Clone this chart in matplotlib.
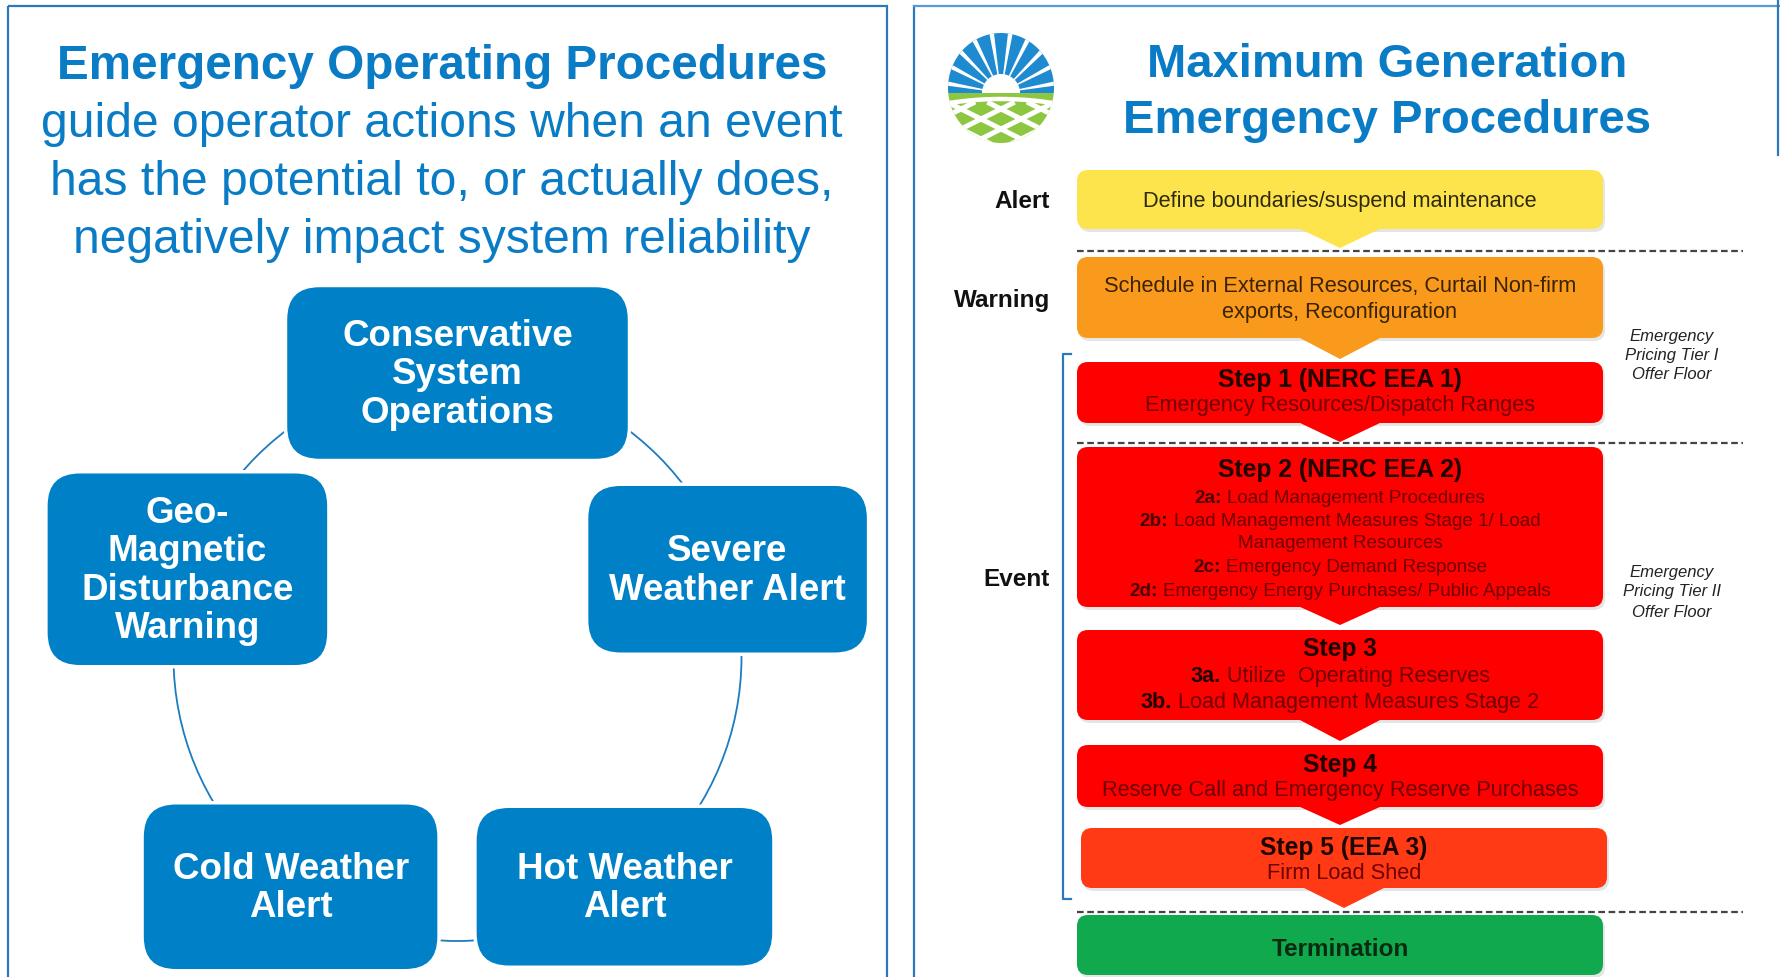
import matplotlib
matplotlib.use('Agg')
import matplotlib.pyplot as plt
from matplotlib.patches import FancyBboxPatch, Polygon, Circle, Rectangle, Wedge, Ellipse
import numpy as np

plt.rcParams['font.family'] = ['Liberation Sans', 'DejaVu Sans']

# ---------------- data ----------------
left_title = "Emergency Operating Procedures"
left_subtitle = ["guide operator actions when an event",
                 "has the potential to, or actually does,",
                 "negatively impact system reliability"]
cycle_labels = [["Conservative", "System", "Operations"],
                ["Severe", "Weather Alert"],
                ["Hot Weather", "Alert"],
                ["Cold Weather", "Alert"],
                ["Geo-", "Magnetic", "Disturbance", "Warning"]]

right_title = ["Maximum Generation", "Emergency Procedures"]
stage_labels = ["Alert", "Warning", "Event"]
alert_lines = ["Define boundaries/suspend maintenance"]
warning_lines = ["Schedule in External Resources, Curtail Non-firm",
                 "exports, Reconfiguration"]
step_titles = ["Step 1 (NERC EEA 1)", "Step 2 (NERC EEA 2)", "Step 3",
               "Step 4", "Step 5 (EEA 3)"]
step_details = [
    [("", "Emergency Resources/Dispatch Ranges")],
    [("2a:", "Load Management Procedures"),
     ("2b:", "Load Management Measures Stage 1/ Load"),
     ("", "Management Resources"),
     ("2c:", "Emergency Demand Response"),
     ("2d:", "Emergency Energy Purchases/ Public Appeals")],
    [("3a.", "Utilize  Operating Reserves"),
     ("3b.", "Load Management Measures Stage 2")],
    [("", "Reserve Call and Emergency Reserve Purchases")],
    [("", "Firm Load Shed")],
]
termination_label = "Termination"
pricing_notes = [["Emergency", "Pricing Tier I", "Offer Floor"],
                 ["Emergency", "Pricing Tier II", "Offer Floor"]]

# ---------------- figure ----------------
W, H = 1780, 977
fig = plt.figure(figsize=(W / 100, H / 100), dpi=100)
ax = fig.add_axes([0, 0, 1, 1])
ax.set_xlim(0, W)
ax.set_ylim(H, 0)
ax.axis('off')

BLUE_TXT = '#0A7BC5'
BOX_BLUE = '#0080C6'
BORDER = '#2C77BD'


def put(x, yc, s, size, weight='normal', color='black', ha='center',
        style='normal', z=5):
    em = size * 100 / 72
    return ax.text(x, yc + 0.355 * em, s, fontsize=size, fontweight=weight,
                   color=color, ha=ha, va='baseline', fontstyle=style, zorder=z)


def put_mixed(cx, yc, prefix, rest, size, pcolor, rcolor):
    if not prefix:
        put(cx, yc, rest, size, color=rcolor)
        return
    em = size * 100 / 72
    yb = yc + 0.355 * em
    t1 = ax.text(0, yb, prefix, fontsize=size, fontweight='bold', color=pcolor,
                 ha='left', va='baseline', zorder=5)
    t2 = ax.text(0, yb, rest, fontsize=size, color=rcolor, ha='left',
                 va='baseline', zorder=5)
    r = fig.canvas.get_renderer()
    w1 = t1.get_window_extent(r).width
    w2 = t2.get_window_extent(r).width
    gap = 0.28 * em
    x0 = cx - (w1 + gap + w2) / 2
    t1.set_x(x0)
    t2.set_x(x0 + w1 + gap)


# ---------------- panel borders ----------------
ax.add_patch(Rectangle((8, 6), 879, 1000, fill=False, ec=BORDER, lw=1.6, zorder=1))
ax.plot([914, 914], [6, H + 5], color=BORDER, lw=1.6, zorder=1)
ax.plot([914, W + 5], [6, 6], color='#5A9AD3', lw=1.6, zorder=1)
ax.plot([1778, 1778], [0, 155], color=BORDER, lw=1.6, zorder=1)

# ---------------- left panel ----------------
put(442, 62, left_title, 34.3, weight='bold', color=BLUE_TXT)
for i, line in enumerate(left_subtitle):
    put(442, 120 + 58 * i, line, 34.6, color=BLUE_TXT)

ccx, ccy, cr = 457.5, 657, 284
ax.add_patch(Circle((ccx, ccy), cr, fill=False, ec='#1B7CC2', lw=1.3, zorder=1))
angles = [-90, -18, 54, 126, 198]
sizes = [(344, 175), (282, 170), (299, 161), (297, 168), (283, 195)]
for lab, ang, (bw, bh) in zip(cycle_labels, angles, sizes):
    bx = ccx + cr * np.cos(np.radians(ang))
    by = ccy + cr * np.sin(np.radians(ang))
    ax.add_patch(FancyBboxPatch((bx - bw / 2, by - bh / 2), bw, bh,
                                boxstyle="round,pad=0,rounding_size=34",
                                fc=BOX_BLUE, ec='white', lw=2.5, zorder=2))
    n = len(lab)
    for j, ln in enumerate(lab):
        put(bx, by - 2 + (j - (n - 1) / 2) * 38.5, ln, 26.5, weight='bold',
            color='white')

# ---------------- right panel: logo ----------------
lcx, lcy = 1001, 88
clip = Ellipse((lcx, lcy), 106, 110, fc='none', ec='none')
ax.add_patch(clip)
hz = 93
parts = [Rectangle((lcx - 60, lcy - 60), 120, hz - (lcy - 60), fc='#1E8BD0', ec='none'),
         Rectangle((lcx - 60, hz), 120, 70, fc='#8DC641', ec='none')]
for p in parts:
    ax.add_patch(p)
    p.set_clip_path(clip)
for a in np.linspace(10, 170, 10):
    w = Wedge((lcx, hz), 80, -a - 2.2, -a + 2.2, fc='white', ec='none')
    ax.add_patch(w)
    w.set_clip_path(clip)
sun = Wedge((lcx, hz), 19, 180, 360, fc='white', ec='none')
ax.add_patch(sun)
xs = np.linspace(lcx - 60, lcx + 60, 80)
ln, = ax.plot(xs, hz + 6 + 0.0015 * (xs - lcx) ** 2, color='white', lw=3.2)
ln.set_clip_path(clip)
for off in [-80, -40, 0, 40, 80]:
    for s in (1, -1):
        ys = hz + 16 + s * 0.5 * (xs - (lcx + off))
        m = ys > hz + 10
        ln, = ax.plot(xs[m], ys[m], color='white', lw=3.6)
        ln.set_clip_path(clip)

# ---------------- right panel: title ----------------
put(1387, 60, right_title[0], 34, weight='bold', color=BLUE_TXT)
put(1387, 116, right_title[1], 34, weight='bold', color=BLUE_TXT)

# ---------------- flow boxes ----------------
YEL, ORA, RED, RED2, GRN = '#FDE44C', '#F99A1C', '#FE0000', '#FF3A14', '#10A94E'
flow_boxes = [  # x0, x1, y0, y1, tip, color
    (1077, 1603, 170, 229, 248, YEL),
    (1077, 1603, 257, 338, 359, ORA),
    (1077, 1603, 362, 423, 442, RED),
    (1077, 1603, 447, 607, 625, RED),
    (1077, 1603, 630, 720, 741, RED),
    (1077, 1603, 745, 807, 825, RED),
    (1081, 1607, 828, 888, 908, RED2),
    (1077, 1603, 915, 975, None, GRN),
]


def callout(x0, x1, y0, y1, tip, color, z):
    cx = (x0 + x1) / 2
    hw = 42
    ax.add_patch(FancyBboxPatch((x0 + 2, y0 + 3), x1 - x0, y1 - y0,
                                boxstyle="round,pad=0,rounding_size=11",
                                fc='#9a9a9a', ec='none', alpha=0.25, zorder=z - 0.5))
    ax.add_patch(FancyBboxPatch((x0, y0), x1 - x0, y1 - y0,
                                boxstyle="round,pad=0,rounding_size=11",
                                fc=color, ec='none', zorder=z))
    if tip is not None:
        ax.add_patch(Polygon([(cx - hw, y1 - 1), (cx + hw, y1 - 1), (cx, tip)],
                             closed=True, fc=color, ec='none', zorder=z))


for k, (x0, x1, y0, y1, tip, col) in enumerate(flow_boxes):
    callout(x0, x1, y0, y1, tip, col, 3 + 0.01 * k)

for yd in [251, 443, 912]:
    ax.plot([1077, 1743], [yd, yd], color='#444444', lw=1.6,
            linestyle=(0, (3, 1.6)), zorder=4)

HEAD = '#1E0500'
SUB = '#6E0000'
PRE = '#4A0000'
put(1340, 199, alert_lines[0], 15.7, color='#2E2A10')
for i, t in enumerate(warning_lines):
    put(1340, 284 + 26 * i, t, 15.7, color='#3A2205')

head_y = [378, 468, 647, 763, 846]
detail_y = [[403], [496, 519, 541.5, 565, 589], [674, 700], [788], [871]]
detail_size = [15.7, 13.6, 15.6, 15.7, 15.7]
head_x = [1340, 1340, 1340, 1340, 1344]
for t, hy, dys, det, ds, hx in zip(step_titles, head_y, detail_y, step_details,
                                   detail_size, head_x):
    put(hx, hy, t, 17.7, weight='bold', color=HEAD)
    for (pre, rest), dy in zip(det, dys):
        pc = HEAD if pre.startswith('3') else PRE
        put_mixed(hx, dy, pre, rest, ds, pc, SUB)
put(1340, 947, termination_label, 17.5, weight='bold', color='#0B2A12')

for lab, yy in zip(stage_labels, [199, 298.5, 577]):
    put(1050, yy, lab, 17.5, weight='bold', color='#111111', ha='right')

ax.plot([1071, 1063, 1063, 1071], [354, 354, 899, 899], color='#2C77BD',
        lw=1.6, zorder=4)

for note, ys in zip(pricing_notes, [[335, 354, 373.5], [571, 590, 611]]):
    for t, yy in zip(note, ys):
        put(1672, yy, t, 12, color='#222222', style='italic')

fig.savefig('out.png', dpi=100)
